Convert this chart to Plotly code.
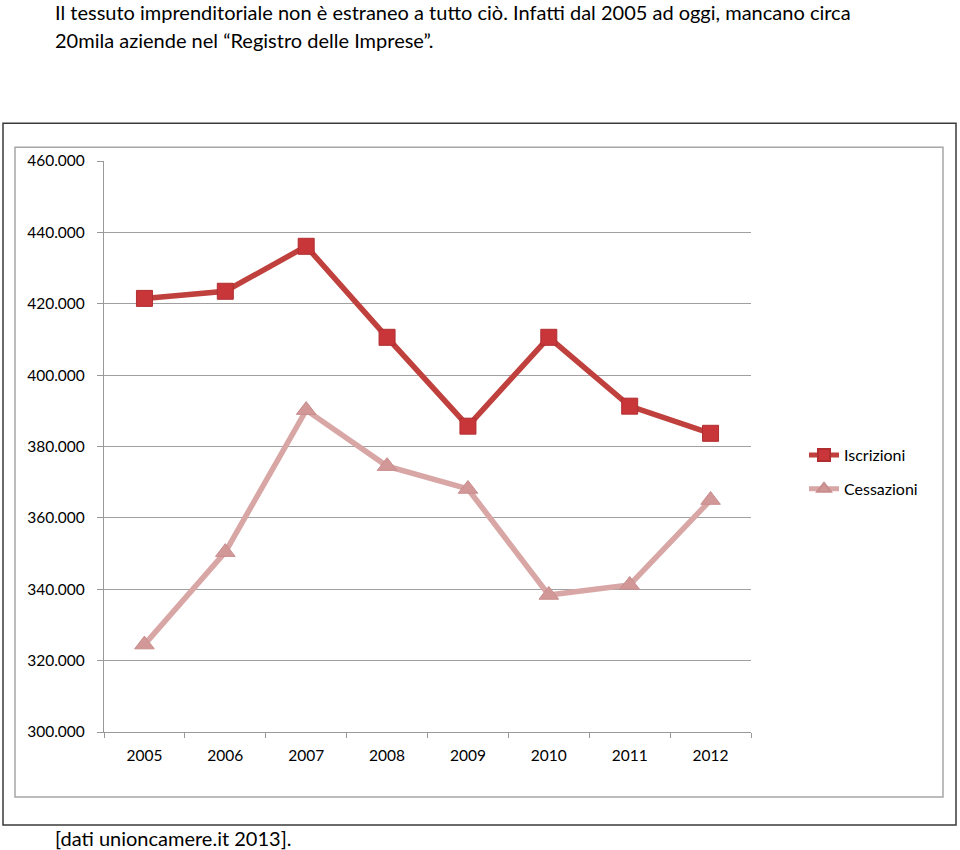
import plotly.graph_objects as go

years = ["2005", "2006", "2007", "2008", "2009", "2010", "2011", "2012"]
iscrizioni = [421500, 423500, 436100, 410600, 385700, 410600, 391300, 383700]
cessazioni = [324500, 350400, 390200, 374500, 368100, 338400, 341200, 365000]
ytick_vals = [300000, 320000, 340000, 360000, 380000, 400000, 420000, 440000, 460000]
ytick_text = ["300.000", "320.000", "340.000", "360.000", "380.000", "400.000", "420.000", "440.000", "460.000"]

W, H = 960, 850
L, R, T, B = 104, 751, 160.7, 732.0
FONT = "Lato, 'Open Sans', sans-serif"


def px(x):
    return (x - L) / (R - L)


def py(y):
    return (B - y) / (B - T)


fig = go.Figure()
fig.add_trace(go.Scatter(
    x=years, y=iscrizioni, name="Iscrizioni", mode="lines+markers",
    legendgroup="a",
    line=dict(color="#C0403D", width=5.5),
    marker=dict(symbol="square", size=16, color="#C8363A",
                line=dict(color="#B02E30", width=1)),
))
fig.add_trace(go.Scatter(
    x=years, y=cessazioni, name="Cessazioni", mode="lines+markers",
    legendgroup="b",
    line=dict(color="#D8A6A5", width=5.5),
    marker=dict(symbol="triangle-up", size=17, color="#D29898",
                line=dict(color="#C88C8C", width=1)),
))

shapes = [
    dict(type="rect", xref="paper", yref="paper",
         x0=px(3), x1=px(956), y0=py(825), y1=py(123),
         line=dict(color="#3a3a3a", width=1.5), layer="below"),
    dict(type="rect", xref="paper", yref="paper",
         x0=px(15), x1=px(943), y0=py(797), y1=py(147),
         line=dict(color="#a6a6a6", width=1.5), layer="below"),
]

annotations = [
    dict(text="Il tessuto imprenditoriale non è estraneo a tutto ciò. Infatti dal 2005 ad oggi, mancano circa",
         xref="paper", yref="paper", x=px(53), y=py(12), xanchor="left", yanchor="middle",
         showarrow=False, font=dict(family=FONT, size=20, color="#000")),
    dict(text="20mila aziende nel “Registro delle Imprese”.",
         xref="paper", yref="paper", x=px(53), y=py(40), xanchor="left", yanchor="middle",
         showarrow=False, font=dict(family=FONT, size=20, color="#000")),
    dict(text="[dati unioncamere.it 2013].",
         xref="paper", yref="paper", x=px(53), y=py(838), xanchor="left", yanchor="middle",
         showarrow=False, font=dict(family=FONT, size=20, color="#000")),
]

fig.update_layout(
    width=W, height=H, autosize=False,
    margin=dict(l=L, r=W - R, t=T, b=H - B, pad=0),
    paper_bgcolor="white", plot_bgcolor="white",
    font=dict(family=FONT, size=15.5, color="#000"),
    showlegend=True,
    legend=dict(x=px(804), y=py(472), xanchor="left", yanchor="middle",
                font=dict(family=FONT, size=16, color="#000"),
                bgcolor="rgba(0,0,0,0)", traceorder="grouped", tracegroupgap=10,
                itemsizing="constant"),
    shapes=shapes,
    annotations=annotations,
    xaxis=dict(type="category", range=[-0.5, 7.5], showgrid=False,
               showline=True, linecolor="#999", linewidth=1.2,
               ticks="outside", tickson="boundaries", ticklen=5, tickcolor="#999",
               ticklabelstandoff=9,
               tickfont=dict(family=FONT, size=15.5, color="#000"), zeroline=False),
    yaxis=dict(range=[300000, 460000], tickvals=ytick_vals, ticktext=ytick_text,
               showgrid=True, gridcolor="#a0a0a0", gridwidth=1.2,
               showline=True, linecolor="#999", linewidth=1.2,
               ticks="outside", ticklen=6, tickcolor="#999",
               ticklabelstandoff=9,
               tickfont=dict(family=FONT, size=15.5, color="#000"), zeroline=False),
)

fig.write_html("out.html", config={"displayModeBar": False},
               post_script="document.body.style.margin='0';document.body.style.overflow='hidden';")
